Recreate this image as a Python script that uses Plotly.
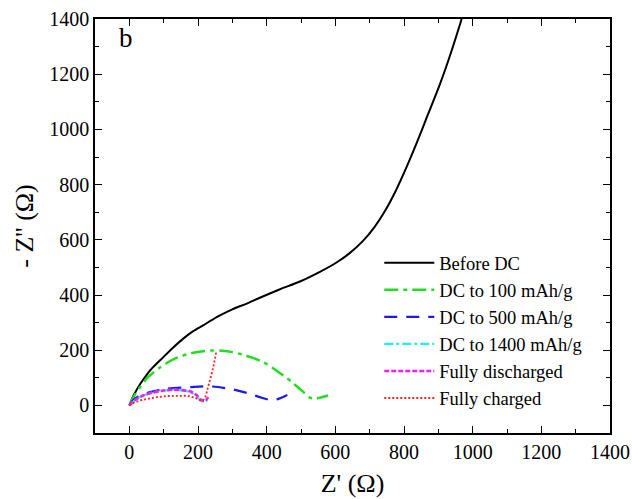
import plotly.graph_objects as go

# Nyquist data: Z' (real) and -Z'' (imaginary), in ohms
before_x = [0, 15, 33, 50, 65, 99, 128, 157, 185, 215, 240, 264, 300, 342, 380, 439, 497, 555, 600, 640, 680, 715, 745, 775, 808, 840, 870, 905, 936, 968]
before_y = [0, 42, 80, 110, 133, 175, 210, 242, 268, 290, 309, 326, 348, 369, 390, 421, 449, 484, 515, 550, 595, 648, 705, 775, 865, 960, 1055, 1165, 1275, 1400]

dc100_x = [0, 12, 31, 55, 89, 128, 177, 215, 240, 270, 300, 330, 360, 390, 420, 448, 470, 491, 510, 526, 540, 555, 568, 579]
dc100_y = [0, 30, 66, 103, 137, 167, 188, 196, 199, 198, 193, 184, 172, 157, 134, 109, 88, 66, 45, 28, 24, 28, 32, 36]

dc500_x = [0, 12, 31, 60, 109, 177, 235, 293, 351, 380, 410, 430, 448, 460]
dc500_y = [0, 20, 36, 48, 60, 66, 69, 60, 42, 30, 20, 22, 30, 38]

dc1400_x = [0, 12, 30, 60, 95, 128, 155, 177, 195, 206, 217, 224, 230]
dc1400_y = [0, 14, 30, 44, 53, 57, 54, 48, 35, 20, 12, 16, 24]

disch_x = [0, 15, 40, 70, 100, 128, 155, 177, 195, 210, 218, 225, 230]
disch_y = [0, 18, 36, 47, 54, 57, 55, 51, 38, 20, 16, 22, 30]

charged_x = [0, 12, 31, 55, 80, 110, 138, 160, 177, 193, 206, 215, 222, 232, 244, 254]
charged_y = [0, 9, 18, 25, 30, 34, 36, 35, 33, 27, 18, 18, 32, 75, 135, 199]

series = [
    ("Before DC", before_x, before_y, "#000000", "solid", 2.0),
    ("DC to 100 mAh/g", dc100_x, dc100_y, "#22dd22", "14px,5px,4px,5px", 2.5),
    ("DC to 500 mAh/g", dc500_x, dc500_y, "#1a1aee", "13px,9px", 2.2),
    ("DC to 1400 mAh/g", dc1400_x, dc1400_y, "#22eeee", "9px,3px,3px,3px", 2.2),
    ("Fully discharged", disch_x, disch_y, "#ee22ee", "5px,2px", 2.6),
    ("Fully charged", charged_x, charged_y, "#ff2020", "2px,2px", 1.8),
]

fig = go.Figure()
for name, xs, ys, color, dash, width in series:
    fig.add_trace(go.Scatter(
        x=xs, y=ys, mode="lines", name=name,
        line=dict(color=color, dash=dash, width=width,
                  shape="linear" if name == "Fully charged" else "spline",
                  smoothing=0.8),
    ))

axis_common = dict(
    showline=True, linecolor="black", linewidth=1.5, mirror="ticks",
    ticks="inside", ticklen=7, tickwidth=1.3, tickcolor="black",
    dtick=200, tick0=0, showgrid=False, zeroline=False, automargin=False,
    minor=dict(dtick=100, ticks="inside", ticklen=4, tickwidth=1.2, tickcolor="black"),
    tickfont=dict(family="Liberation Serif", size=20, color="black"),
)

fig.update_layout(
    width=632, height=499,
    margin=dict(l=95, r=22, t=19, b=66),
    paper_bgcolor="white", plot_bgcolor="white",
    font=dict(family="Liberation Serif", color="black"),
    xaxis=dict(range=[-100, 1400], title=dict(text="Z' (Ω)", font=dict(size=26), standoff=12), **axis_common),
    yaxis=dict(range=[-100, 1400], title=dict(text="- Z'' (Ω)", font=dict(size=26), standoff=8), **axis_common),
    legend=dict(x=0.552, y=0.456, xanchor="left", yanchor="top",
                bgcolor="rgba(0,0,0,0)", font=dict(size=18.5, family="Liberation Serif"),
                itemwidth=50, tracegroupgap=0),
    showlegend=True,
    annotations=[dict(text="b", x=0.042, y=0.955, xref="paper", yref="paper",
                      showarrow=False, xanchor="left", yanchor="middle",
                      font=dict(size=27, family="Liberation Serif"))],
)

fig.write_html("out.html")
